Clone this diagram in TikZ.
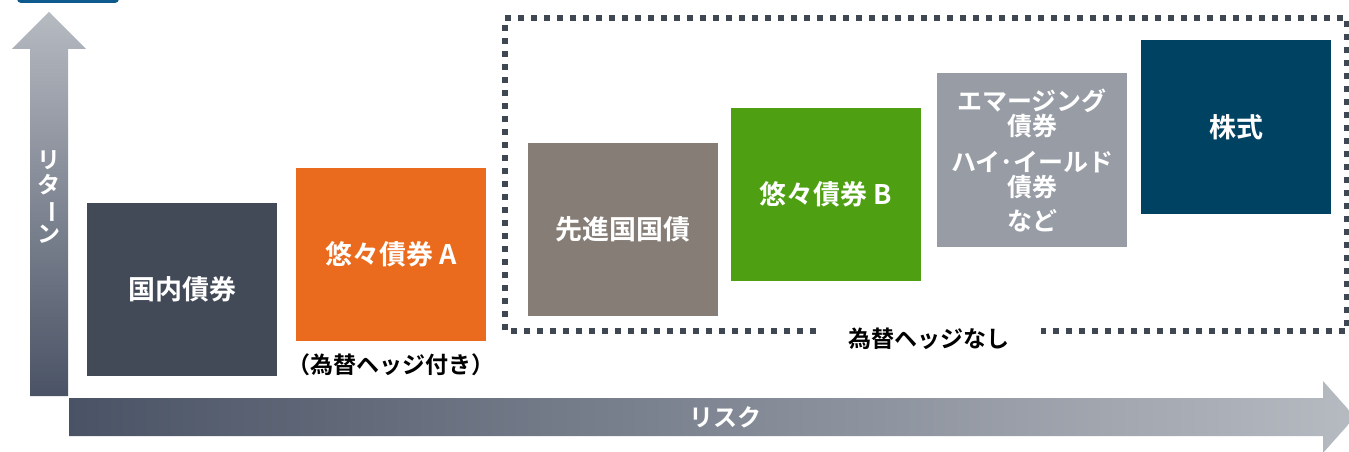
\documentclass[tikz,border=0pt]{standalone}
\usepackage{fontspec}
\setmainfont{Noto Sans CJK JP}[BoldFont={Noto Sans CJK JP Bold}]
\usetikzlibrary{positioning}
\definecolor{domestic}{HTML}{434A57}
\definecolor{bondA}{HTML}{EA6B1D}
\definecolor{govt}{HTML}{857D76}
\definecolor{bondB}{HTML}{4EA012}
\definecolor{emerging}{HTML}{979CA5}
\definecolor{equity}{HTML}{004262}
\definecolor{axisdark}{HTML}{4A5365}
\definecolor{axislight}{HTML}{B6BAC1}
\definecolor{dotline}{HTML}{3F4753}
\definecolor{tabblue}{HTML}{0F5A8C}
\begin{document}
\begin{tikzpicture}[x=1pt,y=-1pt,
	asset/.style={rectangle,inner sep=0pt,minimum width=190pt,minimum height=173pt,text=white,align=center,font=\bfseries\fontsize{27}{30}\selectfont},
	caption/.style={inner sep=0pt,font=\bfseries\fontsize{23}{26}\selectfont}]
		\useasboundingbox (0,0) rectangle (1349,452);
		% tab cut off at the top
		\fill[tabblue,rounded corners=4pt] (17,-20) rectangle (119,3);
		% axes
		\shade[top color=axislight,bottom color=axisdark] (30,396) -- (30,49) -- (12,49) -- (49,12) -- (86,49) -- (68,49) -- (68,396) -- cycle;
		\shade[left color=axisdark,right color=axislight] (69,398) -- (1323,398) -- (1323,381) -- (1355,417) -- (1323,453) -- (1323,436) -- (69,436) -- cycle;
		\node[text=white,align=center,inner sep=0pt,font=\bfseries\fontsize{23}{24.5}\selectfont](ret) at (49,197){リ\\タ\\\rotatebox[origin=c]{-90}{ー}\\ン};
		\node[text=white,inner sep=0pt,font=\bfseries\fontsize{24}{26}\selectfont](risk) at (725,417){リスク};
		% assets
		\node[asset,fill=domestic](dom) at (182,289){国内債券};
		\node[asset,fill=bondA](ya) at (391,254){悠々債券 A};
		\node[asset,fill=govt](gov) at (623,229){先進国国債};
		\node[asset,fill=bondB](yb) at (826,194){悠々債券 B};
		\node[asset,fill=emerging,font=\bfseries\fontsize{25}{25}\selectfont](em) at (1032,160){エマージング\\債券\\[11pt]ハイ･イールド\\債券\\[9pt]など};
		\node[asset,fill=equity](eq) at (1236,127){株式};
		% hedge captions
		\node[caption,below=13pt of ya](hedged){（為替ヘッジ付き）};
		\node[caption](unhedged) at (929,339){為替ヘッジなし};
		\draw[dotline,line width=5.5pt,dash pattern=on 6pt off 7pt]
		(816,331) -- (505,331) -- (505,18) -- (1347,18) -- (1347,331) -- (1041,331);
		\end{tikzpicture}
\end{document}
